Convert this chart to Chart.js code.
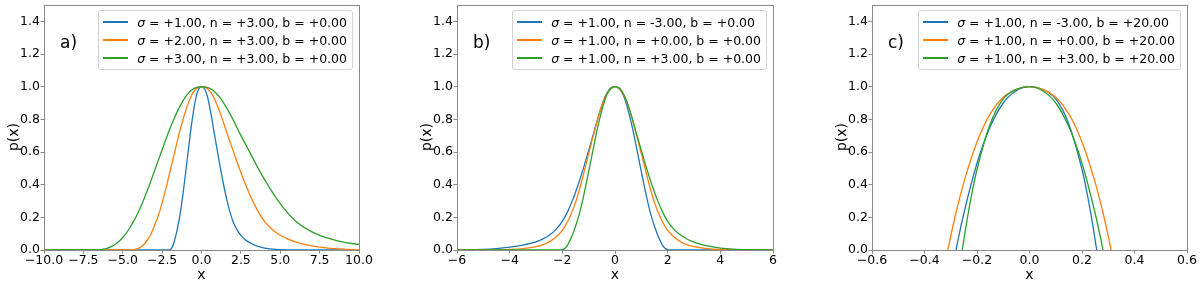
<!DOCTYPE html>
<html>
<head>
<meta charset="utf-8">
<script src="https://cdn.jsdelivr.net/npm/chart.js@4.4.0/dist/chart.umd.min.js"></script>
<style>
  body { margin: 0; background: #fff; font-family: "DejaVu Sans", sans-serif; color: #000; }
  #wrap { position: relative; width: 1200px; height: 284px; overflow: hidden; }
  .panel { position: absolute; top: 0; width: 400px; height: 284px; }
  .panel canvas { position: absolute; left: 0; top: 0; }
  .tag { position: absolute; font-size: 17px; line-height: 20px; }
  .ylab { position: absolute; font-size: 14px; line-height: 16px; white-space: nowrap;
          transform: translate(-50%, -50%) rotate(-90deg); }
  .legend { position: absolute; background: rgba(255,255,255,0.8); border: 1px solid #d2d2d2;
            border-radius: 3px; padding: 2px 5px 2px 4px; font-size: 12.5px; }
  .legend .row { height: 18px; display: flex; align-items: center; white-space: nowrap; }
  .legend .ln { width: 25px; height: 2px; margin-right: 9px; flex: none; }
</style>
</head>
<body>
<div id="wrap">
  <div class="panel" id="panelA" style="left:0px"><canvas id="chartA" width="400" height="284"></canvas></div>
  <div class="panel" id="panelB" style="left:400px"><canvas id="chartB" width="400" height="284"></canvas></div>
  <div class="panel" id="panelC" style="left:800px"><canvas id="chartC" width="400" height="284"></canvas></div>
</div>
<script>
// --- data ---
// panel a) sigma = 1, 2, 3 with n = 3, b = 0
var aBlueX = [-10, -2.05, -1.9, -1.8, -1.7, -1.6, -1.5, -1.4, -1.3, -1.2, -1.1, -1, -0.9, -0.8, -0.7, -0.6, -0.5, -0.4, -0.3, -0.2, -0.1, 0, 0.1, 0.2, 0.3, 0.4, 0.5, 0.6, 0.7, 0.8, 0.9, 1, 1.2, 1.4, 1.6, 1.8, 2, 2.25, 2.5, 2.75, 3, 3.5, 4, 4.5, 5, 6, 10];
var aBlueY = [0, 0, 0.01, 0.03, 0.062, 0.1, 0.145, 0.195, 0.255, 0.325, 0.4, 0.48, 0.56, 0.64, 0.72, 0.79, 0.855, 0.91, 0.953, 0.981, 0.996, 1, 0.997, 0.986, 0.963, 0.93, 0.885, 0.835, 0.78, 0.72, 0.665, 0.61, 0.5, 0.4, 0.31, 0.235, 0.175, 0.125, 0.09, 0.066, 0.048, 0.025, 0.012, 0.005, 0.002, 0, 0];
var aOrangeX = [-10, -4.4, -4.2, -4, -3.8, -3.6, -3.4, -3.2, -3, -2.8, -2.6, -2.4, -2.2, -2, -1.8, -1.6, -1.4, -1.2, -1, -0.8, -0.6, -0.4, -0.2, 0, 0.2, 0.4, 0.6, 0.8, 1, 1.2, 1.4, 1.6, 1.8, 2, 2.4, 2.8, 3.2, 3.6, 4, 4.5, 5, 5.5, 6, 7, 8, 9, 10];
var aOrangeY = [0, 0, 0.004, 0.01, 0.022, 0.04, 0.066, 0.1, 0.145, 0.195, 0.255, 0.325, 0.4, 0.48, 0.56, 0.64, 0.72, 0.79, 0.855, 0.91, 0.953, 0.981, 0.996, 1, 0.997, 0.986, 0.963, 0.93, 0.885, 0.835, 0.78, 0.72, 0.665, 0.61, 0.5, 0.4, 0.31, 0.235, 0.175, 0.125, 0.09, 0.066, 0.048, 0.025, 0.012, 0.005, 0.002];
var aGreenX = [-10, -6.6, -6.3, -6, -5.7, -5.4, -5.1, -4.8, -4.5, -4.2, -3.9, -3.6, -3.3, -3, -2.7, -2.4, -2.1, -1.8, -1.5, -1.2, -0.9, -0.6, -0.3, 0, 0.3, 0.6, 0.9, 1.2, 1.5, 1.8, 2.1, 2.4, 2.7, 3, 3.6, 4.2, 4.8, 5.4, 6, 6.75, 7.5, 8.25, 9, 10];
var aGreenY = [0, 0, 0.004, 0.01, 0.022, 0.04, 0.066, 0.1, 0.145, 0.195, 0.255, 0.325, 0.4, 0.48, 0.56, 0.64, 0.72, 0.79, 0.855, 0.91, 0.953, 0.981, 0.996, 1, 0.997, 0.986, 0.963, 0.93, 0.885, 0.835, 0.78, 0.72, 0.665, 0.61, 0.5, 0.4, 0.31, 0.235, 0.175, 0.125, 0.09, 0.066, 0.048, 0.034];
var aLabels = ['σ = +1.00, n = +3.00, b = +0.00', 'σ = +2.00, n = +3.00, b = +0.00', 'σ = +3.00, n = +3.00, b = +0.00'];

// panel b) n = -3, 0, 3 with sigma = 1, b = 0
var bBlueX = [-6, -5, -4.5, -4, -3.5, -3, -2.75, -2.5, -2.25, -2, -1.8, -1.6, -1.4, -1.2, -1, -0.9, -0.8, -0.7, -0.6, -0.5, -0.4, -0.3, -0.2, -0.1, 0, 0.1, 0.2, 0.3, 0.4, 0.5, 0.6, 0.7, 0.8, 0.9, 1, 1.1, 1.2, 1.3, 1.4, 1.5, 1.6, 1.7, 1.8, 1.9, 2.05, 6];
var bBlueY = [0, 0.003, 0.008, 0.017, 0.03, 0.05, 0.067, 0.09, 0.125, 0.175, 0.235, 0.31, 0.4, 0.5, 0.61, 0.665, 0.72, 0.78, 0.835, 0.885, 0.93, 0.963, 0.986, 0.997, 1, 0.996, 0.981, 0.953, 0.91, 0.855, 0.79, 0.72, 0.64, 0.56, 0.48, 0.4, 0.325, 0.255, 0.195, 0.145, 0.1, 0.062, 0.03, 0.01, 0, 0];
var bOrangeX = [-6, -5, -4.5, -4, -3.5, -3, -2.75, -2.5, -2.25, -2, -1.75, -1.5, -1.25, -1, -0.75, -0.5, -0.25, 0, 0.25, 0.5, 0.75, 1, 1.25, 1.5, 1.75, 2, 2.25, 2.5, 2.75, 3, 3.5, 4, 4.5, 5, 6];
var bOrangeY = [0, 0, 0.001, 0.003, 0.008, 0.02, 0.032, 0.05, 0.078, 0.12, 0.19, 0.29, 0.43, 0.59, 0.745, 0.885, 0.97, 1, 0.97, 0.885, 0.745, 0.59, 0.43, 0.29, 0.19, 0.12, 0.078, 0.05, 0.032, 0.02, 0.008, 0.003, 0.001, 0, 0];
var bGreenX = [-6, -2.05, -1.9, -1.8, -1.7, -1.6, -1.5, -1.4, -1.3, -1.2, -1.1, -1, -0.9, -0.8, -0.7, -0.6, -0.5, -0.4, -0.3, -0.2, -0.1, 0, 0.1, 0.2, 0.3, 0.4, 0.5, 0.6, 0.7, 0.8, 0.9, 1, 1.2, 1.4, 1.6, 1.8, 2, 2.25, 2.5, 2.75, 3, 3.5, 4, 4.5, 5, 6];
var bGreenY = [0, 0, 0.01, 0.03, 0.062, 0.1, 0.145, 0.195, 0.255, 0.325, 0.4, 0.48, 0.56, 0.64, 0.72, 0.79, 0.855, 0.91, 0.953, 0.981, 0.996, 1, 0.997, 0.986, 0.963, 0.93, 0.885, 0.835, 0.78, 0.72, 0.665, 0.61, 0.5, 0.4, 0.31, 0.235, 0.175, 0.125, 0.09, 0.066, 0.048, 0.025, 0.012, 0.005, 0.002, 0];
var bLabels = ['σ = +1.00, n = -3.00, b = +0.00', 'σ = +1.00, n = +0.00, b = +0.00', 'σ = +1.00, n = +3.00, b = +0.00'];

// panel c) n = -3, 0, 3 with sigma = 1, b = 20
var cBlueX = [-0.28, -0.27, -0.25, -0.2, -0.15, -0.1, -0.05, 0, 0.05, 0.1, 0.15, 0.2, 0.22, 0.24, 0.256];
var cBlueY = [0, 0.079, 0.225, 0.531, 0.754, 0.9, 0.975, 1, 0.984, 0.925, 0.77, 0.493, 0.342, 0.163, 0];
var cOrangeX = [-0.311, -0.3, -0.28, -0.25, -0.2, -0.15, -0.1, -0.05, 0, 0.05, 0.1, 0.15, 0.2, 0.25, 0.28, 0.3, 0.311];
var cOrangeY = [0, 0.085, 0.228, 0.414, 0.661, 0.833, 0.935, 0.984, 1, 0.984, 0.935, 0.833, 0.661, 0.414, 0.228, 0.085, 0];
var cGreenX = [-0.256, -0.24, -0.22, -0.2, -0.15, -0.1, -0.05, 0, 0.05, 0.1, 0.15, 0.2, 0.25, 0.27, 0.28];
var cGreenY = [0, 0.163, 0.342, 0.493, 0.77, 0.925, 0.984, 1, 0.975, 0.9, 0.754, 0.531, 0.225, 0.079, 0];
var cLabels = ['σ = +1.00, n = -3.00, b = +20.00', 'σ = +1.00, n = +0.00, b = +20.00', 'σ = +1.00, n = +3.00, b = +20.00'];

// axes: [min, max, step, decimals]
var aXAxis = [-10, 10, 2.5, 1];
var bXAxis = [-6, 6, 2, 0];
var cXAxis = [-0.6, 0.6, 0.2, 1];
var yAxis = [0, 1.5, 0.2, 1];
var panelTags = ['a)', 'b)', 'c)'];
var seriesColors = ['#1f77b4', '#ff7f0e', '#2ca02c'];

var FONT = '"DejaVu Sans", sans-serif';
var AXIS_COLOR = '#8a8a8a';

function fmt(v, dec) {
    var s = Math.abs(v) < 1e-9 ? (0).toFixed(dec) : v.toFixed(dec);
    return s.replace('-', '\u2212');
}

function toPoints(xs, ys) {
    return xs.map(function (x, i) { return { x: x, y: ys[i] }; });
}

//枠を描く
var framePlugin = {
    id: 'frame',
    afterDraw: function (chart) {
        var a = chart.chartArea;
        var ctx = chart.ctx;
        ctx.save();
        ctx.strokeStyle = AXIS_COLOR;
        ctx.lineWidth = 1;
        ctx.strokeRect(Math.round(a.left) + 0.5, Math.round(a.top) + 0.5,
            Math.round(a.right - a.left), Math.round(a.bottom - a.top));
        ctx.restore();
    }
};

function makePanel(panelId, canvasId, series, labels, xAxis, padLeft, padRight, tag) {
    var datasets = [];
    for (var i = 0; i < series.length; i++) {
        datasets.push({
            label: labels[i],
            data: toPoints(series[i][0], series[i][1]),
            borderColor: seriesColors[i],
            backgroundColor: seriesColors[i],
            borderWidth: 1.3,
            pointRadius: 0,
            fill: false,
            cubicInterpolationMode: 'monotone',
            order: series.length - i
        });
    }

    var tickFont = { family: FONT, size: 12.5 };
    var config = {
        type: 'line',
        data: { datasets: datasets },
        plugins: [framePlugin],
        options: {
            responsive: false,
            animation: false,
            devicePixelRatio: 1,
            layout: { padding: { left: padLeft, right: padRight, top: 5, bottom: 0 } },
            plugins: { legend: { display: false }, tooltip: { enabled: false } },
            scales: {
                x: {
                    type: 'linear',
                    min: xAxis[0], max: xAxis[1],
                    border: { display: false },
                    grid: { drawOnChartArea: false, drawTicks: true, tickLength: 3.5, color: AXIS_COLOR },
                    ticks: {
                        stepSize: xAxis[2], autoSkip: false, maxRotation: 0, minRotation: 0,
                        padding: 0, color: '#000', font: tickFont,
                        callback: function (v) { return fmt(v, xAxis[3]); }
                    },
                    title: { display: true, text: 'x', color: '#000', font: { family: FONT, size: 14 }, padding: 0 },
                    afterFit: function (axis) { axis.height = 34; axis.paddingLeft = 0; axis.paddingRight = 0; }
                },
                y: {
                    type: 'linear',
                    min: yAxis[0], max: yAxis[1],
                    border: { display: false },
                    grid: { drawOnChartArea: false, drawTicks: true, tickLength: 3.5, color: AXIS_COLOR },
                    ticks: {
                        stepSize: yAxis[2], includeBounds: false, padding: 0.5, color: '#000', font: tickFont,
                        callback: function (v) { return fmt(v, yAxis[3]); }
                    },
                    afterFit: function (axis) { axis.width = 44; axis.paddingTop = 0; axis.paddingBottom = 0; }
                }
            }
        }
    };

    var chart = new Chart(document.getElementById(canvasId), config);
    var area = chart.chartArea;
    var panel = document.getElementById(panelId);

    //パネル名
    var t = document.createElement('div');
    t.className = 'tag';
    t.textContent = tag;
    t.style.left = (area.left + 16) + 'px';
    t.style.top = (area.top + 27) + 'px';
    panel.appendChild(t);

    //y軸ラベル
    var yl = document.createElement('div');
    yl.className = 'ylab';
    yl.textContent = 'p(x)';
    yl.style.left = (area.left - 31) + 'px';
    yl.style.top = Math.round(area.top + 0.537 * (area.bottom - area.top)) + 'px';
    panel.appendChild(yl);

    //凡例
    var lg = document.createElement('div');
    lg.className = 'legend';
    lg.style.right = Math.round(400 - area.right + 6) + 'px';
    lg.style.top = Math.round(area.top + 5) + 'px';
    chart.data.datasets.forEach(function (ds) {
        var row = document.createElement('div');
        row.className = 'row';
        var ln = document.createElement('div');
        ln.className = 'ln';
        ln.style.background = ds.borderColor;
        row.appendChild(ln);
        var txt = document.createElement('span');
        txt.innerHTML = '<i>σ</i>' + ds.label.substring(1);
        row.appendChild(txt);
        lg.appendChild(row);
    });
    panel.appendChild(lg);
    return chart;
}

makePanel('panelA', 'chartA', [[aBlueX, aBlueY], [aOrangeX, aOrangeY], [aGreenX, aGreenY]], aLabels, aXAxis, 0, 41, panelTags[0]);
makePanel('panelB', 'chartB', [[bBlueX, bBlueY], [bOrangeX, bOrangeY], [bGreenX, bGreenY]], bLabels, bXAxis, 13, 27, panelTags[1]);
makePanel('panelC', 'chartC', [[cBlueX, cBlueY], [cOrangeX, cOrangeY], [cGreenX, cGreenY]], cLabels, cXAxis, 28, 13, panelTags[2]);
</script>
</body>
</html>
